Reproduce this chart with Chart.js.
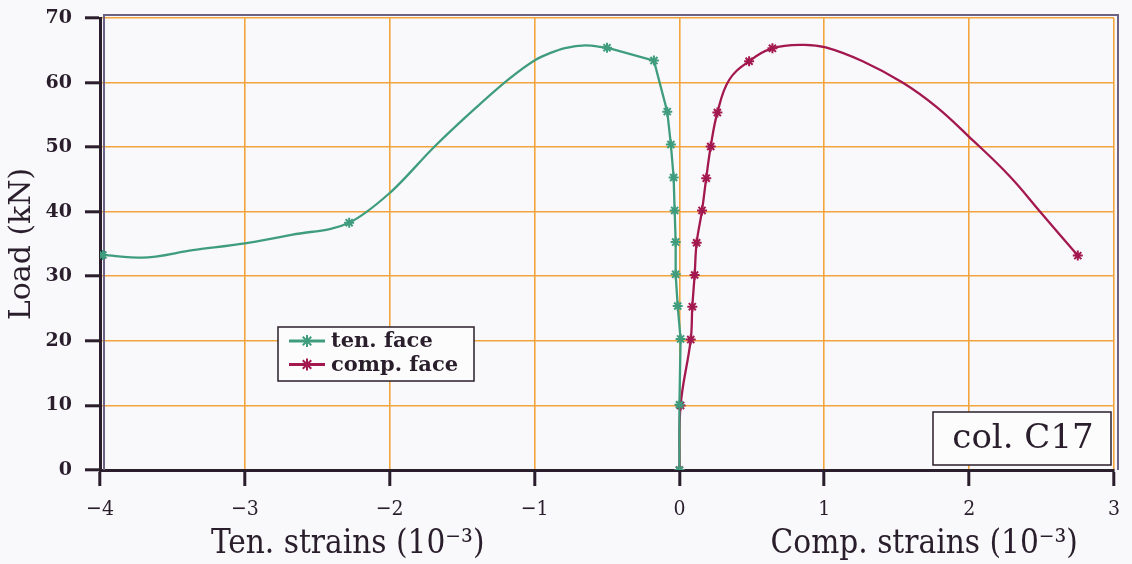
<!DOCTYPE html>
<html>
<head>
<meta charset="utf-8">
<title>col. C17 – strains vs. load</title>
<script src="https://cdn.jsdelivr.net/npm/chart.js@4.4.1/dist/chart.umd.min.js"></script>
<style>
  html, body { margin: 0; padding: 0; background: #f9f9fb; }
  #wrap { position: relative; width: 1132px; height: 564px; }
</style>
</head>
<body>
<div id="wrap"><canvas id="c" width="1132" height="564"></canvas></div>
<script>
// Measured concrete strains (x 10^-3) and applied load (kN), column C17
const tenStrain  = [0, 0.0, 0.008, -0.012, -0.026, -0.026, -0.033, -0.040, -0.059, -0.084, -0.176, -0.50, -2.28, -3.98];
const tenLoad    = [0, 10.1, 20.3, 25.4, 30.3, 35.3, 40.2, 45.3, 50.4, 55.5, 63.4, 65.4, 38.3, 33.3];
const compStrain = [0, 0.008, 0.078, 0.089, 0.105, 0.119, 0.156, 0.185, 0.216, 0.262, 0.481, 0.642, 2.75];
const compLoad   = [0, 10.0, 20.2, 25.3, 30.2, 35.2, 40.2, 45.2, 50.1, 55.35, 63.3, 65.3, 33.2];

// Smoothed fit curves between the readings
const tenCurveStrain  = [-0.65, -0.79, -0.89, -0.995, -1.18, -1.41, -1.69, -2.0, -2.67, -3.0, -3.36, -3.71];
const tenCurveLoad    = [65.75, 65.35, 64.6, 63.5, 60.5, 56.0, 50.1, 42.9, 36.45, 35.1, 34.05, 32.9];
const compCurveStrain = [0.343, 0.85, 1.01, 1.265, 1.54, 1.77, 2.0, 2.28, 2.49];
const compCurveLoad   = [60.4, 65.85, 65.45, 63.3, 60.0, 56.3, 51.6, 45.5, 40.0];

const xTicks = [-4, -3, -2, -1, 0, 1, 2, 3];
const yTicks = [0, 10, 20, 30, 40, 50, 60, 70];

const seriesNames = ['ten. face', 'comp. face'];
const tagText = 'col. C17';
const xTitles = ['Ten. strains (10\u207B\u00B3)', 'Comp. strains (10\u207B\u00B3)'];
const yTitle = 'Load (kN)';

const GREEN = '#3f9d7d';
const RED = '#a3184f';
const INK = '#2a1e2c';
const GRID = '#f2a43e';
const FRAME = '#6c6284';
const SERIF = "'DejaVu Serif', serif";
const SERIF_C = "'DejaVu Serif Condensed', 'DejaVu Serif', serif";

const pts = (xs, ys) => xs.map((x, i) => ({ x, y: ys[i] }));

// tension side: straight polyline up to the peak reading, smooth curve beyond it
const tenPts = pts(tenStrain, tenLoad);
const tenStraight = tenPts.filter(p => p.x >= -0.5);
const tenCurved = tenPts.filter(p => p.x <= -0.5)
  .concat(pts(tenCurveStrain, tenCurveLoad))
  .sort((a, b) => a.x - b.x);
// compression side: one smooth curve
const compPath = pts(compStrain, compLoad)
  .concat(pts(compCurveStrain, compCurveLoad))
  .sort((a, b) => a.x - b.x);

const lineDs = (data, color, mode) => ({
  data, showLine: true, borderColor: color, borderWidth: 2.3,
  tension: mode ? 0.4 : 0,
  cubicInterpolationMode: mode || 'default',
  pointRadius: 0, pointHoverRadius: 0, order: 2
});
const markDs = (label, data, color) => ({
  label, data, showLine: false, pointStyle: 'star', pointRadius: 5,
  borderWidth: 2, borderColor: color, backgroundColor: color, order: 1
});

// outer frame (top and right edges) behind the data
const framePlugin = {
  id: 'frame',
  beforeDatasetsDraw(chart) {
    const { ctx, chartArea: a } = chart;
    ctx.save();
    ctx.strokeStyle = FRAME;
    ctx.lineWidth = 2;
    ctx.beginPath();
    ctx.moveTo(a.left + 4, a.bottom);
    ctx.lineTo(a.left + 4, a.top - 3);
    ctx.lineTo(a.right + 4, a.top - 3);
    ctx.lineTo(a.right + 4, a.bottom);
    ctx.stroke();
    ctx.restore();
  }
};

// legend box, series tag and the two x-axis captions
const notesPlugin = {
  id: 'notes',
  afterDraw(chart) {
    const { ctx, chartArea: a, scales } = chart;
    ctx.save();

    // legend
    const lx = a.left + 178, ly = a.top + 309, lw = 196, lh = 54;
    ctx.fillStyle = '#fcfcfd';
    ctx.fillRect(lx, ly, lw, lh);
    ctx.strokeStyle = INK;
    ctx.lineWidth = 1.5;
    ctx.strokeRect(lx, ly, lw, lh);
    const colors = [GREEN, RED];
    seriesNames.forEach((name, i) => {
      const y = ly + 14 + i * 23.5;
      ctx.strokeStyle = colors[i];
      ctx.fillStyle = colors[i];
      ctx.lineWidth = 2.8;
      ctx.beginPath();
      ctx.moveTo(lx + 11, y);
      ctx.lineTo(lx + 47, y);
      ctx.stroke();
      ctx.lineWidth = 2;
      Chart.helpers.drawPoint(ctx, { pointStyle: 'star', radius: 6, borderWidth: 2 }, lx + 29, y);
      ctx.fillStyle = INK;
      ctx.font = 'bold 21px ' + SERIF;
      ctx.textBaseline = 'middle';
      ctx.textAlign = 'left';
      ctx.fillText(name, lx + 53, y + 1);
    });

    // series tag in the lower right corner
    const tw = 178, th = 53;
    const tx = a.right - 181, ty = a.bottom - 58;
    ctx.fillStyle = '#fcfcfd';
    ctx.fillRect(tx, ty, tw, th);
    ctx.strokeStyle = INK;
    ctx.lineWidth = 1.5;
    ctx.strokeRect(tx, ty, tw, th);
    ctx.fillStyle = INK;
    ctx.font = '34px ' + SERIF;
    ctx.textAlign = 'center';
    ctx.textBaseline = 'middle';
    ctx.fillText(tagText, tx + tw / 2 + 1, ty + th / 2 + 1);

    // x-axis captions under each half
    const xs = scales.x;
    ctx.font = '33px ' + SERIF_C;
    ctx.textBaseline = 'middle';
    ctx.fillText(xTitles[0], xs.getPixelForValue(-2.29), 544);
    ctx.fillText(xTitles[1], xs.getPixelForValue(1.69), 544);
    ctx.restore();
  }
};

new Chart(document.getElementById('c'), {
  type: 'scatter',
  data: {
    datasets: [
      markDs(seriesNames[0], tenPts, GREEN),
      markDs(seriesNames[1], pts(compStrain, compLoad), RED),
      lineDs(tenStraight, GREEN, null),
      lineDs(tenCurved, GREEN, 'monotone'),
      lineDs(compPath, RED, 'default')
    ]
  },
  options: {
    responsive: false,
    animation: false,
    devicePixelRatio: 1,
    layout: { padding: { left: 0, right: 18, top: 18, bottom: 0 } },
    plugins: { legend: { display: false }, tooltip: { enabled: false } },
    scales: {
      x: {
        type: 'linear', min: -4, max: 3,
        afterBuildTicks: s => { s.ticks = xTicks.map(v => ({ value: v })); },
        afterFit: s => { s.height = 94; s.paddingLeft = 0; s.paddingRight = 0; },
        grid: { color: GRID, lineWidth: 1.6, tickColor: INK, tickWidth: 3, tickLength: 16 },
        border: { color: INK, width: 3 },
        ticks: {
          color: INK, padding: 11,
          font: { family: SERIF_C, size: 21 },
          callback: v => (v < 0 ? '\u2212' + Math.abs(v) : String(v))
        }
      },
      y: {
        type: 'linear', min: 0, max: 70,
        afterBuildTicks: s => { s.ticks = yTicks.map(v => ({ value: v })); },
        afterFit: s => { s.width = 100; s.paddingTop = 0; s.paddingBottom = 0; },
        grid: { color: GRID, lineWidth: 1.6, tickColor: INK, tickWidth: 3, tickLength: 15 },
        border: { color: INK, width: 3 },
        ticks: {
          color: INK, padding: 13,
          font: { family: SERIF, size: 19, weight: 'bold' },
          callback: v => String(v)
        },
        title: {
          display: true, text: yTitle, color: INK,
          font: { family: SERIF, size: 30 },
          padding: { top: 4, bottom: 0 }
        }
      }
    }
  },
  plugins: [framePlugin, notesPlugin]
});
</script>
</body>
</html>
